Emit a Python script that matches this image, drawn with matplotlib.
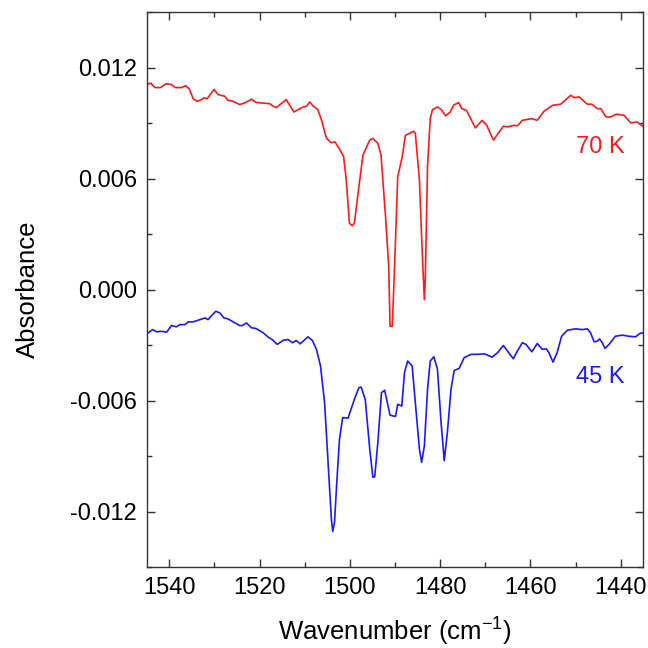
import matplotlib
matplotlib.use("Agg")
import matplotlib.pyplot as plt
from matplotlib.ticker import MultipleLocator

# spectra
wavenumber_70k = [1545.0, 1544.1, 1543.2, 1541.9, 1540.7, 1539.5, 1538.7, 1537.3, 1536.4, 1535.6,
                  1534.7, 1533.9, 1533.2, 1532.3, 1531.6, 1530.1, 1529.2, 1527.7, 1527.0, 1525.9,
                  1524.4, 1523.3, 1521.8, 1520.7, 1517.8, 1517.0, 1516.3, 1514.1, 1512.4, 1510.4,
                  1509.6, 1508.9, 1508.2, 1507.1, 1506.2, 1505.2, 1504.2, 1503.3, 1502.4, 1501.4,
                  1500.8, 1500.1, 1499.5, 1499.0, 1498.0, 1497.1, 1495.6, 1494.9, 1493.8, 1493.1,
                  1492.1, 1491.4, 1491.1, 1490.6, 1490.1, 1489.4, 1488.4, 1487.7, 1486.8, 1485.9,
                  1485.5, 1484.6, 1483.9, 1483.5, 1483.3, 1482.8, 1482.2, 1481.7, 1480.6, 1479.8,
                  1478.8, 1477.8, 1477.0, 1475.9, 1475.2, 1474.2, 1472.2, 1470.7, 1469.7, 1468.2,
                  1466.0, 1465.1, 1463.6, 1462.9, 1461.8, 1459.7, 1458.5, 1457.0, 1455.1, 1453.3,
                  1451.1, 1450.3, 1449.2, 1447.4, 1446.4, 1445.2, 1444.4, 1443.3, 1442.2, 1441.0,
                  1439.3, 1437.8, 1436.4, 1435.1]
absorbance_70k = [0.01109, 0.01117, 0.01093, 0.01093, 0.01114, 0.01109, 0.01093, 0.01093, 0.01103, 0.01087,
                  0.01033, 0.01019, 0.01024, 0.01037, 0.01033, 0.01083, 0.01055, 0.01046, 0.01024, 0.01019,
                  0.01001, 0.01010, 0.01030, 0.01012, 0.01006, 0.00992, 0.00985, 0.01028, 0.00961, 0.00988,
                  0.00992, 0.01015, 0.00995, 0.00974, 0.00910, 0.00820, 0.00795, 0.00799, 0.00764, 0.00722,
                  0.00593, 0.00360, 0.00345, 0.00360, 0.00557, 0.00728, 0.00809, 0.00818, 0.00791, 0.00728,
                  0.00395, 0.00126, -0.00198, -0.00198, 0.00126, 0.00611, 0.00719, 0.00835, 0.00845, 0.00857,
                  0.00845, 0.00593, 0.00162, -0.00054, 0.00054, 0.00665, 0.00925, 0.00974, 0.00988, 0.00975,
                  0.00940, 0.00960, 0.00998, 0.01012, 0.00979, 0.00970, 0.00875, 0.00916, 0.00889, 0.00809,
                  0.00884, 0.00880, 0.00889, 0.00886, 0.00916, 0.00925, 0.00916, 0.00965, 0.00997, 0.01003,
                  0.01051, 0.01039, 0.01042, 0.01003, 0.01003, 0.00979, 0.00979, 0.00934, 0.00934, 0.00949,
                  0.00943, 0.00902, 0.00907, 0.00884]

wavenumber_45k = [1545.0, 1543.7, 1542.8, 1541.7, 1540.6, 1539.5, 1538.4, 1537.6, 1536.5, 1535.8,
                  1534.7, 1533.2, 1532.1, 1531.4, 1530.6, 1529.7, 1528.8, 1527.9, 1527.0, 1525.9,
                  1524.4, 1523.8, 1522.9, 1521.8, 1520.8, 1519.2, 1518.1, 1517.2, 1516.1, 1514.7,
                  1513.7, 1512.7, 1511.9, 1511.0, 1509.3, 1508.3, 1507.4, 1506.5, 1505.6, 1504.7,
                  1504.1, 1503.8, 1503.4, 1502.9, 1502.3, 1501.6, 1500.4, 1499.0, 1498.0, 1497.5,
                  1496.6, 1495.6, 1494.9, 1494.5, 1493.8, 1493.0, 1492.3, 1491.1, 1489.9, 1489.4,
                  1488.5, 1487.9, 1487.2, 1486.2, 1485.5, 1484.6, 1484.1, 1483.5, 1482.8, 1482.2,
                  1481.4, 1480.6, 1479.8, 1479.1, 1478.4, 1477.6, 1476.9, 1475.8, 1474.7, 1473.2,
                  1471.7, 1470.2, 1468.5, 1467.3, 1466.0, 1465.1, 1463.8, 1462.9, 1461.8, 1461.0,
                  1459.7, 1458.5, 1457.4, 1456.5, 1455.9, 1455.0, 1454.1, 1453.1, 1451.8, 1450.0,
                  1448.5, 1447.4, 1446.7, 1445.9, 1445.2, 1444.7, 1444.1, 1443.5, 1442.6, 1441.2,
                  1439.7, 1438.2, 1436.7, 1435.8, 1435.1]
absorbance_45k = [-0.00239, -0.00216, -0.00228, -0.00225, -0.00230, -0.00194, -0.00201, -0.00189, -0.00189, -0.00174,
                  -0.00174, -0.00162, -0.00153, -0.00162, -0.00140, -0.00117, -0.00126, -0.00153, -0.00158, -0.00174,
                  -0.00194, -0.00194, -0.00180, -0.00206, -0.00210, -0.00233, -0.00257, -0.00270, -0.00296, -0.00273,
                  -0.00270, -0.00287, -0.00275, -0.00293, -0.00255, -0.00275, -0.00323, -0.00413, -0.00611, -0.00988,
                  -0.01240, -0.01308, -0.01258, -0.01042, -0.00809, -0.00692, -0.00695, -0.00593, -0.00530, -0.00527,
                  -0.00593, -0.00862, -0.01015, -0.01012, -0.00826, -0.00557, -0.00544, -0.00679, -0.00686, -0.00620,
                  -0.00629, -0.00449, -0.00386, -0.00413, -0.00611, -0.00862, -0.00934, -0.00845, -0.00539, -0.00386,
                  -0.00363, -0.00431, -0.00718, -0.00925, -0.00772, -0.00539, -0.00437, -0.00426, -0.00368, -0.00350,
                  -0.00350, -0.00347, -0.00365, -0.00341, -0.00302, -0.00332, -0.00374, -0.00332, -0.00287, -0.00296,
                  -0.00336, -0.00291, -0.00323, -0.00320, -0.00341, -0.00392, -0.00341, -0.00252, -0.00219, -0.00212,
                  -0.00216, -0.00212, -0.00233, -0.00282, -0.00279, -0.00266, -0.00287, -0.00318, -0.00296, -0.00252,
                  -0.00246, -0.00252, -0.00255, -0.00237, -0.00233]

y_ticks = [-0.012, -0.006, 0.000, 0.006, 0.012]
y_tick_labels = ["-0.012", "-0.006", "0.000", "0.006", "0.012"]

plt.rcParams["font.family"] = ["Liberation Sans", "DejaVu Sans"]
plt.rcParams["mathtext.fontset"] = "custom"
plt.rcParams["mathtext.rm"] = "Liberation Sans"
plt.rcParams["axes.unicode_minus"] = False

fig = plt.figure(figsize=(6.48, 6.48), dpi=100)
ax = fig.add_axes([0.2264, 0.125, 0.7664, 0.856])

ax.plot(wavenumber_70k, absorbance_70k, color="#ff1a1a", lw=1.2)
ax.plot(wavenumber_45k, absorbance_45k, color="#1a1aff", lw=1.2)

# temperature labels
ax.text(1444.5, 0.0077, "70 K", color="#ff1a1a", fontsize=17, ha="center", va="center")
ax.text(1444.5, -0.0047, "45 K", color="#1a1aff", fontsize=17, ha="center", va="center")

ax.set_xlim(1545, 1435)
ax.set_ylim(-0.015, 0.015)
ax.xaxis.set_major_locator(MultipleLocator(20))
ax.xaxis.set_minor_locator(MultipleLocator(10))
ax.set_yticks(y_ticks)
ax.set_yticklabels(y_tick_labels)
ax.yaxis.set_minor_locator(MultipleLocator(0.003))

ax.tick_params(which="both", direction="in", top=True, right=True, labelsize=17,
               color="#333333", width=1.0)
ax.tick_params(which="major", length=6, pad=7)
ax.tick_params(which="minor", length=3.5)
for spine in ax.spines.values():
    spine.set_color("#333333")
    spine.set_linewidth(1.0)

ax.set_xlabel(r"Wavenumber (cm$^{\mathregular{-1}}$)", fontsize=18.5, labelpad=11)
ax.set_ylabel("Absorbance", fontsize=18.5, labelpad=22)

plt.savefig("out.png", dpi=100)
